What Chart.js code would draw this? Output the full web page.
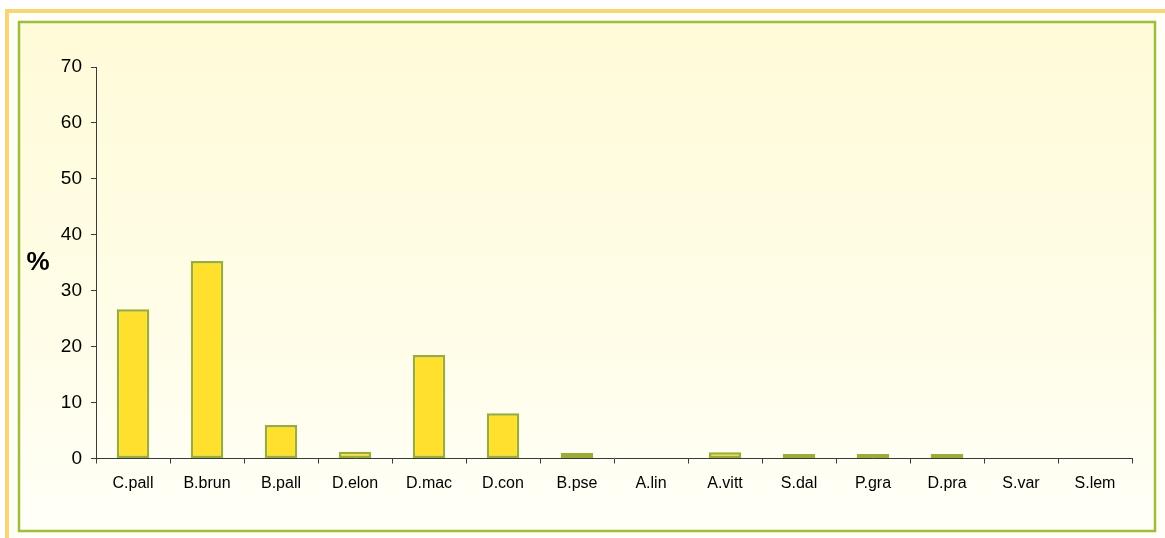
<!DOCTYPE html>
<html>
<head>
<meta charset="utf-8">
<script src="https://cdn.jsdelivr.net/npm/chart.js@4/dist/chart.umd.min.js"></script>
<style>
  html, body { margin: 0; padding: 0; background: #ffffff; }
  #wrap { position: relative; width: 1165px; height: 538px; }
  canvas { display: block; }
</style>
</head>
<body>
<div id="wrap"><canvas id="c" width="1165" height="538"></canvas></div>
<script>
// Species codes along the x axis
const categories = ['C.pall', 'B.brun', 'B.pall', 'D.elon', 'D.mac', 'D.con', 'B.pse',
                    'A.lin', 'A.vitt', 'S.dal', 'P.gra', 'D.pra', 'S.var', 'S.lem'];
// Share of each species, in percent
const percentages = [26.7, 35.3, 6.0, 1.2, 18.5, 8.1, 1.0, 0, 1.1, 0.8, 0.8, 0.8, 0, 0];
// Value axis range and step
const yRange = { min: 0, max: 70, step: 10 };
const yAxisTitle = '%';

const FONT = '"Liberation Sans", Arial, Helvetica, sans-serif';

// Page frame: orange outer band, green inner box with a soft cream fill
const framePlugin = {
  id: 'frame',
  beforeDraw(chart) {
    const ctx = chart.ctx;
    const W = chart.width, H = chart.height;
    ctx.save();
    ctx.fillStyle = '#ffffff';
    ctx.fillRect(0, 0, W, H);
    ctx.fillStyle = '#fffff6';
    ctx.fillRect(9, 13, W - 9, H - 13);
    // orange band
    ctx.strokeStyle = '#f8d676';
    ctx.lineWidth = 4;
    ctx.beginPath();
    ctx.moveTo(7, H + 2);
    ctx.lineTo(7, 11);
    ctx.lineTo(W + 2, 11);
    ctx.stroke();
    // inner box
    const g = ctx.createLinearGradient(0, 22, 0, 531);
    g.addColorStop(0, '#fffbd8');
    g.addColorStop(0.6, '#fffde8');
    g.addColorStop(1, '#fffff8');
    ctx.fillStyle = g;
    ctx.fillRect(19, 22, 1136, 509);
    ctx.strokeStyle = '#9dbd3c';
    ctx.lineWidth = 2.5;
    ctx.strokeRect(19, 22, 1136, 509);
    ctx.restore();
  },
  afterDraw(chart) {
    const ctx = chart.ctx;
    ctx.save();
    ctx.fillStyle = '#000000';
    ctx.font = 'bold 26px ' + FONT;
    ctx.textAlign = 'center';
    ctx.textBaseline = 'middle';
    ctx.fillText(yAxisTitle, 38, 263);
    ctx.restore();
  }
};

new Chart(document.getElementById('c'), {
  type: 'bar',
  data: {
    labels: categories,
    datasets: [{
      data: percentages,
      backgroundColor: '#ffe02c',
      borderColor: '#9aad38',
      borderWidth: 2.5,
      borderSkipped: false,
      categoryPercentage: 1.0,
      barPercentage: 0.44
    }]
  },
  options: {
    responsive: false,
    animation: false,
    layout: { padding: { left: 0, right: 33, top: 67, bottom: 0 } },
    plugins: {
      legend: { display: false },
      tooltip: { enabled: false }
    },
    scales: {
      x: {
        grid: {
          display: true,
          offset: true,
          drawOnChartArea: false,
          drawTicks: true,
          tickLength: 5,
          color: '#3a3a3a',
          lineWidth: 1
        },
        border: { display: true, color: '#3a3a3a', width: 1 },
        ticks: {
          color: '#000000',
          font: { family: FONT, size: 16 },
          padding: 10,
          maxRotation: 0,
          autoSkip: false
        },
        afterFit(scale) { scale.height = 79.5; }
      },
      y: {
        min: yRange.min,
        max: yRange.max,
        grid: {
          display: true,
          drawOnChartArea: false,
          drawTicks: true,
          tickLength: 5,
          color: '#3a3a3a',
          lineWidth: 1
        },
        border: { display: true, color: '#3a3a3a', width: 1 },
        ticks: {
          stepSize: yRange.step,
          color: '#000000',
          font: { family: FONT, size: 19 },
          padding: 9
        },
        afterFit(scale) { scale.width = 96; }
      }
    }
  },
  plugins: [framePlugin]
});
</script>
</body>
</html>
